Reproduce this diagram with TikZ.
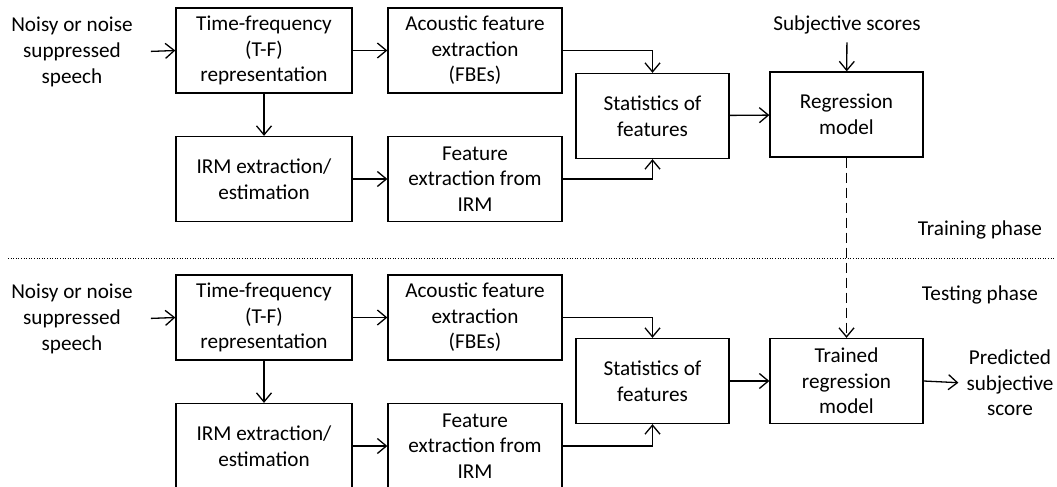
\documentclass[tikz,border=0pt]{standalone}
\usepackage{fontspec}
\setmainfont{Carlito}
\usetikzlibrary{arrows.meta}

\begin{document}
\begin{tikzpicture}[x=1pt, y=-1pt,
        every node/.style={font=\fontsize{21.2}{25.6}\selectfont, align=center},
        blk/.style={draw, line width=1.3pt, minimum width=176pt, minimum height=85pt, inner sep=0pt},
        sml/.style={blk, minimum width=153pt},
        arr/.style={line width=1.3pt, -{Straight Barb[length=9pt, width=15pt]}},
        lbl/.style={inner sep=2pt}
      ]
        \useasboundingbox (0,0) rectangle (1057,487);
        % training phase
        \node[lbl] (in1) at (72, 52) {Noisy or noise\\suppressed\\speech};
        \node[blk] (tf1) at (264, 50.5) {Time-frequency\\(T-F)\\representation};
        \node[blk] (irm1) at (264, 179) {IRM extraction/\\estimation};
        \node[blk, minimum width=174pt] (af1) at (475, 50.5) {Acoustic feature\\extraction\\(FBEs)};
        \node[blk, minimum width=174pt] (fe1) at (475, 179) {Feature\\extraction from\\IRM};
        \node[sml] (st1) at (652.5, 116) {Statistics of\\features};
        \node[sml] (rg1) at (846.5, 114.5) {Regression\\model};
        \node[lbl] (ss) at (847, 25) {Subjective scores};
        \node[lbl] (trn) at (980, 230) {Training phase};
        % testing phase
        \node[lbl] (in2) at (72, 319) {Noisy or noise\\suppressed\\speech};
        \node[blk] (tf2) at (264, 317.5) {Time-frequency\\(T-F)\\representation};
        \node[blk] (irm2) at (264, 446) {IRM extraction/\\estimation};
        \node[blk, minimum width=174pt] (af2) at (475, 317.5) {Acoustic feature\\extraction\\(FBEs)};
        \node[blk, minimum width=174pt] (fe2) at (475, 446) {Feature\\extraction from\\IRM};
        \node[sml] (st2) at (652.5, 381) {Statistics of\\features};
        \node[sml] (rg2) at (846.5, 381) {Trained\\regression\\model};
        \node[lbl] (out) at (1010, 383) {Predicted\\subjective\\score};
        \node[lbl] (tst) at (980, 295) {Testing phase};
        \coordinate (sepl) at (8, 258);
        \coordinate (sepr) at (1055, 258);
        \draw[dotted, line width=0.6pt] (sepl) -- (sepr);
        \foreach \r in {1,2} {
          \draw[arr, shorten <=16pt] (in\r.east) -- (tf\r.west);
          \draw[arr] (tf\r) -- (irm\r);
          \draw[arr] (tf\r) -- (af\r);
          \draw[arr] (irm\r) -- (fe\r);
          \draw[arr] (af\r.east) -| (st\r.north);
          \draw[arr] (fe\r.east) -| (st\r.south);
          \draw[arr] (st\r) -- (rg\r);
        }
        \draw[arr, shorten <=6pt] (ss) -- (rg1);
        \draw[arr, dash pattern=on 10pt off 5pt] (rg1) -- (rg2);
        \draw[arr, shorten >=6pt] (rg2.east) -- (out.west);
      \end{tikzpicture}
\end{document}
